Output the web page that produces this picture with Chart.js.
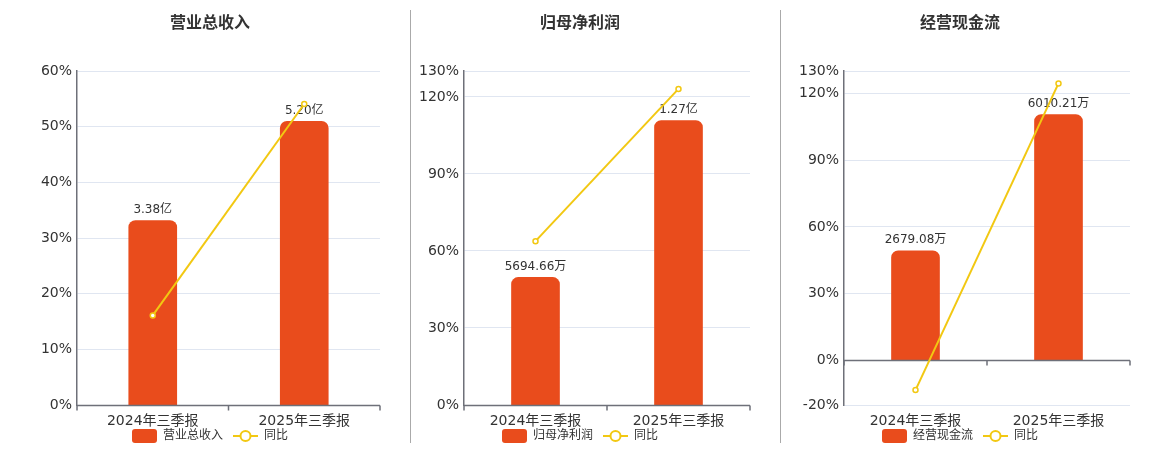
<!DOCTYPE html>
<html>
<head>
<meta charset="utf-8">
<script src="https://cdn.jsdelivr.net/npm/chart.js@4.4.1/dist/chart.umd.min.js"></script>
<style>
  body { margin: 0; background: #fff; width: 1160px; height: 450px; position: relative; overflow: hidden; }
  .divider { position: absolute; top: 10px; height: 433px; width: 1px; background: #aaa; }
  .box { position: absolute; top: 0; height: 450px; }
</style>
</head>
<body>
<div class="divider" style="left:410px"></div>
<div class="divider" style="left:780px"></div>
<div class="box" style="left:0;width:420px"><canvas id="revenueChart"></canvas></div>
<div class="box" style="left:400px;width:360px"><canvas id="profitChart"></canvas></div>
<div class="box" style="left:780px;width:360px"><canvas id="cashChart"></canvas></div>

<script>
// categories
const periods = ['2024年三季报', '2025年三季报'];

// bar values in yuan, yoy values in %
const revenue = [338000000, 520000000];
const revenueYoy = [16.1, 54.1];
const netProfit = [56946600, 127000000];
const netProfitYoy = [63.8, 123.1];
const cashFlow = [26790800, 60102100];
const cashFlowYoy = [-13.3, 124.5];

// percent axis ticks
const revenueTicks = [0, 10, 20, 30, 40, 50, 60];
const profitTicks = [0, 30, 60, 90, 120, 130];
const cashTicks = [-20, 0, 30, 60, 90, 120, 130];

const BAR_COLOR = '#E94C1C';
const LINE_COLOR = '#F2C812';
const FONT = '"DejaVu Sans", "Noto Sans CJK SC", sans-serif';

Chart.defaults.font.family = FONT;

// format a yuan amount as 亿 / 万
function formatAmount(v) {
  if (Math.abs(v) >= 100000000) return (v / 100000000).toFixed(2) + '亿';
  return (v / 10000).toFixed(2) + '万';
}

// axis line at zero + value labels over bars
const barDecor = {
  id: 'barDecor',
  afterDatasetDraw(chart, args) {
    if (args.index !== 0) return;
    const ctx = chart.ctx;
    const area = chart.chartArea;
    const y0 = Math.round(chart.scales.y.getPixelForValue(0)) + 0.5;
    ctx.save();
    ctx.strokeStyle = '#6E7079';
    ctx.lineWidth = 1.5;
    ctx.beginPath();
    ctx.moveTo(area.left, y0); ctx.lineTo(area.right, y0);
    const mid = (area.left + area.right) / 2;
    [area.left, mid, area.right].forEach(x => {
      ctx.moveTo(x, y0); ctx.lineTo(x, y0 + 5);
    });
    ctx.stroke();

    ctx.fillStyle = '#333';
    ctx.font = '12px ' + FONT;
    ctx.textAlign = 'center';
    ctx.textBaseline = 'bottom';
    args.meta.data.forEach((bar, i) => {
      ctx.fillText(formatAmount(chart.data.datasets[0].data[i]), bar.x, bar.y - 5);
    });
    ctx.restore();
  }
};

// legend row at the bottom: bar swatch + line-with-circle swatch
const legendRow = {
  id: 'legendRow',
  afterDraw(chart) {
    const ctx = chart.ctx;
    const names = [chart.data.datasets[0].label, chart.data.datasets[1].label];
    ctx.save();
    ctx.font = '12px ' + FONT;
    const widths = names.map(t => ctx.measureText(t).width);
    const total = 25 + 6 + widths[0] + 10 + 25 + 6 + widths[1];
    let x = chart.width / 2 - total / 2;
    const y = 436;

    ctx.fillStyle = BAR_COLOR;
    ctx.beginPath();
    ctx.roundRect(x, y - 7, 25, 14, 3);
    ctx.fill();
    ctx.fillStyle = '#333';
    ctx.textBaseline = 'middle';
    ctx.fillText(names[0], x + 31, y);
    x += 31 + widths[0] + 10;

    ctx.strokeStyle = LINE_COLOR;
    ctx.lineWidth = 2;
    ctx.beginPath();
    ctx.moveTo(x, y); ctx.lineTo(x + 25, y);
    ctx.stroke();
    ctx.beginPath();
    ctx.arc(x + 12.5, y, 5, 0, Math.PI * 2);
    ctx.fillStyle = '#fff';
    ctx.fill();
    ctx.stroke();
    ctx.fillStyle = '#333';
    ctx.fillText(names[1], x + 31, y);
    ctx.restore();
  }
};

function makeChart(id, title, barName, bars, yoy, ticks, barMin, barMax, axisWidth, sidePad) {
  const ctx = document.getElementById(id).getContext('2d');
  return new Chart(ctx, {
    data: {
      labels: periods,
      datasets: [{
        type: 'bar',
        label: barName,
        data: bars,
        yAxisID: 'y1',
        backgroundColor: BAR_COLOR,
        barThickness: 48,
        borderRadius: { topLeft: 7, topRight: 7 },
        borderSkipped: 'bottom',
        order: 2
      }, {
        type: 'line',
        label: '同比',
        data: yoy,
        yAxisID: 'y',
        borderColor: LINE_COLOR,
        borderWidth: 2,
        pointRadius: 2.5,
        pointBorderWidth: 1.5,
        pointBackgroundColor: '#fff',
        pointBorderColor: LINE_COLOR,
        order: 1
      }]
    },
    options: {
      responsive: true,
      maintainAspectRatio: false,
      animation: false,
      layout: { padding: { left: sidePad, right: sidePad, bottom: 21 } },
      plugins: {
        title: {
          display: true,
          text: title,
          color: '#333',
          font: { size: 16, weight: 'bold' },
          padding: { top: 14, bottom: 38 }
        },
        legend: { display: false },
        tooltip: { enabled: false }
      },
      scales: {
        x: {
          grid: { display: false },
          border: { display: false },
          afterFit: scale => { scale.height = 24; },
          ticks: { color: '#333', font: { size: 14 }, padding: 0 }
        },
        y: {
          min: ticks[0],
          max: ticks[ticks.length - 1],
          afterBuildTicks: scale => { scale.ticks = ticks.map(v => ({ value: v })); },
          afterFit: scale => { scale.width = axisWidth; },
          grid: { color: '#E0E6F1', drawTicks: false },
          border: { display: true, color: '#6E7079', width: 1.5 },
          ticks: { color: '#333', font: { size: 14 }, padding: 5, callback: v => v + '%' }
        },
        y1: {
          display: false,
          min: barMin,
          max: barMax
        }
      }
    },
    plugins: [barDecor, legendRow]
  });
}

makeChart('revenueChart', '营业总收入', '营业总收入', revenue, revenueYoy, revenueTicks, 0, 612000000, 37, 40);
makeChart('profitChart', '归母净利润', '归母净利润', netProfit, netProfitYoy, profitTicks, 0, 149000000, 54, 10);
makeChart('cashChart', '经营现金流', '经营现金流', cashFlow, cashFlowYoy, cashTicks, -10870000, 70670000, 54, 10);
</script>
</body>
</html>
